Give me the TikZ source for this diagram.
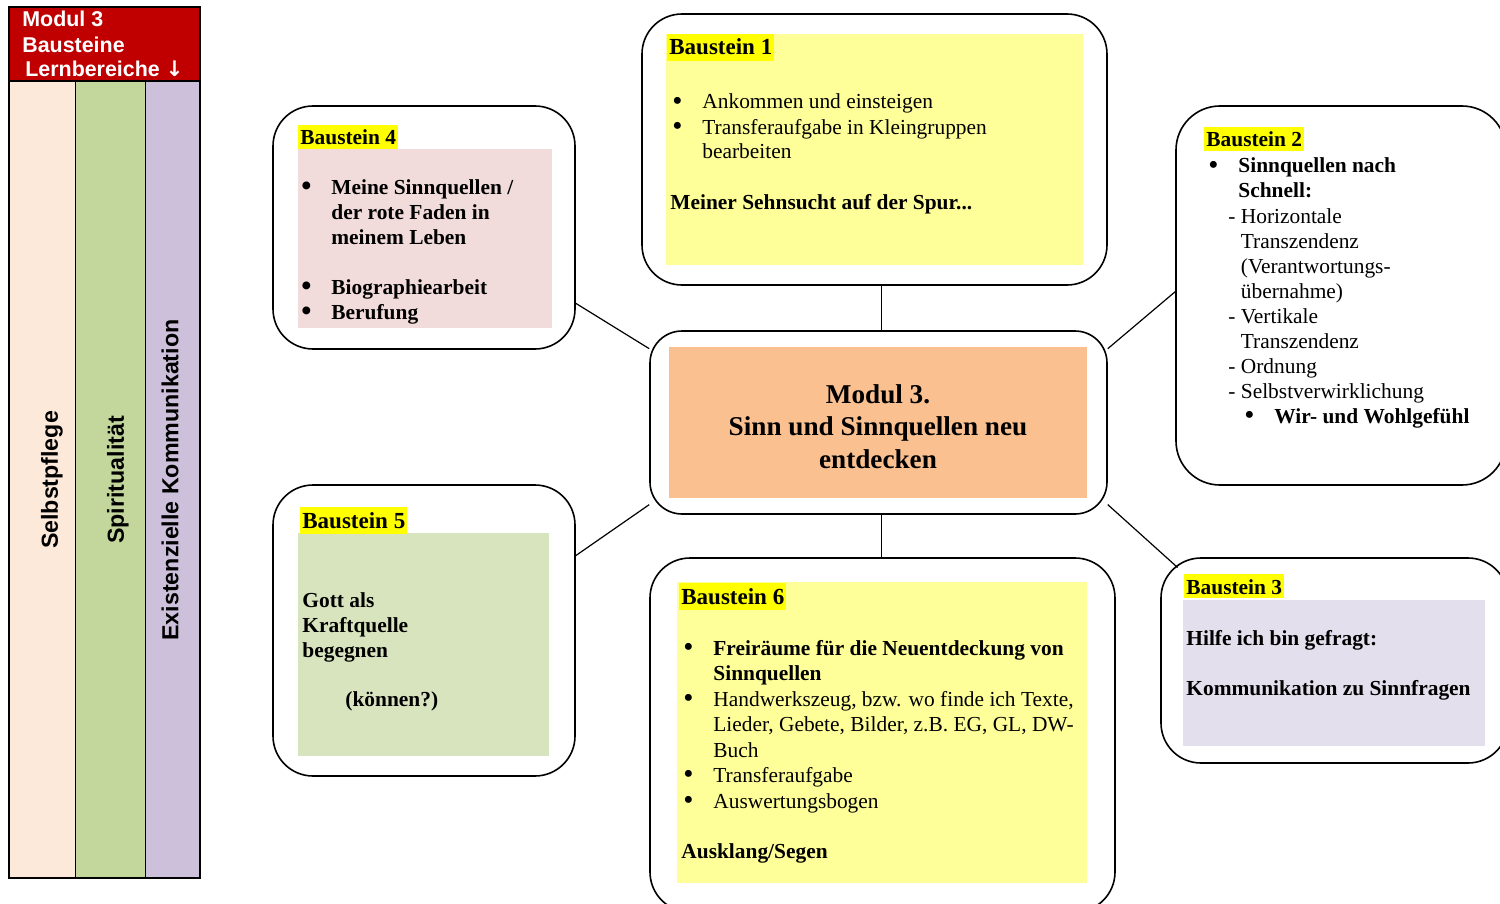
\documentclass[tikz,border=0pt]{standalone}
\usepackage{fontspec}
\setmainfont{Liberation Serif}
\setsansfont{Liberation Sans}
\newfontfamily\arrowfont{DejaVu Sans}
\usepackage{tikz}
\usetikzlibrary{calc,fit,positioning}
\definecolor{modred}{RGB}{192,0,0}
\definecolor{peach}{RGB}{253,233,217}
\definecolor{leafgreen}{RGB}{195,214,155}
\definecolor{lilac}{RGB}{204,192,218}
\definecolor{paleyellow}{RGB}{255,255,153}
\definecolor{hlyellow}{RGB}{255,255,0}
\definecolor{rosepink}{RGB}{242,220,219}
\definecolor{sage}{RGB}{215,228,189}
\definecolor{palelilac}{RGB}{228,223,236}
\definecolor{apricot}{RGB}{250,192,144}
\tikzstyle{bstbox}=[draw,rounded corners=20pt,line width=0.8pt,inner sep=0pt]
\tikzstyle{bsthead}=[anchor=base west,fill=hlyellow,inner xsep=1pt,inner ysep=0pt,text height=10.5pt,text depth=3pt,font=\bfseries\fontsize{11.5}{13}\selectfont]
\tikzstyle{smallhead}=[bsthead,text height=10pt,text depth=2pt,font=\bfseries\fontsize{10.7}{12.5}\selectfont]
\tikzstyle{bsttext}=[anchor=base west,inner sep=0pt,align=left,font=\fontsize{10.7}{12.5}\selectfont]
\tikzstyle{lbtext}=[rotate=90,inner sep=0pt,font=\sffamily\bfseries\fontsize{11.6}{14}\selectfont]
\newcommand{\bul}{\makebox[15pt][l]{\smash{\raisebox{-0.6pt}{\fontsize{14.5}{12}\selectfont\textbullet}}}}
\newcommand{\ind}{\hspace*{15pt}}
\begin{document}
\begin{tikzpicture}[x=0.5pt,y=-0.5pt]
\useasboundingbox (0,0) rectangle (1500,904);
\clip (0,0) rectangle (1500,904);
\fill[modred] (9,7) rectangle (200,81);
\fill[peach] (9,81) rectangle (75,878);
\fill[leafgreen] (75,81) rectangle (145,878);
\fill[lilac] (145,81) rectangle (200,878);
\draw[line width=0.8pt] (9,7) rectangle (200,878);
\draw[line width=0.6pt] (9,81) -- (200,81);
\draw[line width=0.5pt] (75,81) -- (75,878) (145,81) -- (145,878);
\node[anchor=base west,inner sep=0pt,align=left,text=white,font=\sffamily\bfseries\fontsize{10.7}{12.5}\selectfont] (lbhead) at (22,77) {Modul 3\\Bausteine\\\hspace*{1.5pt}Lernbereiche {\arrowfont\bfseries ↓}};
\node[lbtext] (selbst) at (52,480) {Selbstpflege};
\node[lbtext] (spirit) at (118,480) {Spiritualität};
\node[lbtext] (exist) at (170,480) {Existenzielle Kommunikation};

\fill[paleyellow] (666,34) rectangle (1083,265);
\fill[rosepink] (298,149) rectangle (552,328);
\fill[apricot] (669,347) rectangle (1087,498);
\fill[sage] (298,533) rectangle (549,756);
\fill[paleyellow] (677,582) rectangle (1087,883);
\fill[palelilac] (1183,600) rectangle (1485,746);

\node[bstbox,fit={(642,14) (1107,285)}] (b1) {};
\node[bstbox,fit={(273,106) (575,349)}] (b4) {};
\node[bstbox,rounded corners=22pt,fit={(1176,106) (1506,485)}] (b2) {};
\node[bstbox,rounded corners=16pt,fit={(650,331) (1107,514)}] (mod) {};
\node[bstbox,fit={(273,485) (575,776)}] (b5) {};
\node[bstbox,fit={(650,558) (1115,912)}] (b6) {};
\node[bstbox,fit={(1161,558) (1508,763)}] (b3) {};

\draw[line width=0.6pt] ([xshift=1.5pt]mod.north) -- ([xshift=1.5pt]mod.north |- b1.south);
\draw[line width=0.6pt] ([xshift=1.5pt]mod.south) -- ([xshift=1.5pt]mod.south |- b6.north);
\draw[line width=0.6pt] ($(b4.north east)!0.81!(b4.south east)$) -- ($(mod.north west)!0.1!(mod.south west)$);
\draw[line width=0.6pt] ($(b5.north east)!0.244!(b5.south east)$) -- ($(mod.north west)!0.945!(mod.south west)$);
\draw[line width=0.6pt] ($(mod.north east)!0.1!(mod.south east)$) -- ($(b2.north west)!0.49!(b2.south west)$);
\draw[line width=0.6pt] ($(mod.north east)!0.945!(mod.south east)$) -- ($(b3.north west)!0.05!(b3.south east)$);

\node[bsthead] (h1) at (667,55) {Baustein 1};
\node[bsttext] (t1) at (672,159) {\bul Ankommen und einsteigen\\\bul Transferaufgabe in Kleingruppen\\\ind bearbeiten};
\node[bsttext,font=\bfseries\fontsize{10.7}{12.5}\selectfont] (t1b) at (670,209) {Meiner Sehnsucht auf der Spur...};

\node[smallhead] (h4) at (298,145) {Baustein 4};
\node[bsttext,font=\bfseries\fontsize{10.7}{12.5}\selectfont] (t4) at (301,319) {\bul Meine Sinnquellen /\\\ind der rote Faden in\\\ind meinem Leben\\[12.5pt]\bul Biographiearbeit\\\bul Berufung};

\node[smallhead] (h2) at (1204,147) {Baustein 2};
\node[bsttext] (t2) at (1208,198) {\bul\textbf{Sinnquellen nach}\\\ind\textbf{Schnell:}};
\node[bsttext] (t2b) at (1228,398) {- Horizontale\\\phantom{-\ }Transzendenz\\\phantom{-\ }(Verantwortungs-\\\phantom{-\ }übernahme)\\- Vertikale\\\phantom{-\ }Transzendenz\\- Ordnung\\- Selbstverwirklichung};
\node[bsttext] (t2c) at (1244,423) {\bul\textbf{Wir- und Wohlgefühl}};

\node[anchor=base,inner sep=0pt,align=center,font=\bfseries\fontsize{13.6}{16.25}\selectfont] (modtext) at (878,468) {Modul 3.\\Sinn und Sinnquellen neu\\entdecken};

\node[bsthead] (h5) at (300,528) {Baustein 5};
\node[bsttext,font=\bfseries\fontsize{10.7}{12.5}\selectfont] (t5) at (302,657) {Gott als\\Kraftquelle\\begegnen};
\node[bsttext,font=\bfseries\fontsize{10.7}{12.5}\selectfont] (t5b) at (345,706) {(können?)};

\node[bsthead] (h6) at (679,604) {Baustein 6};
\node[bsttext,font=\fontsize{10.7}{12.75}\selectfont] (t6) at (683,808) {\bul\textbf{Freiräume für die Neuentdeckung von}\\\ind\textbf{Sinnquellen}\\\bul Handwerkszeug, bzw. wo finde ich Texte,\\\ind Lieder, Gebete, Bilder, z.B. EG, GL, DW-\\\ind Buch\\\bul Transferaufgabe\\\bul Auswertungsbogen};
\node[bsttext,font=\bfseries\fontsize{10.7}{12.5}\selectfont] (t6b) at (681,858) {Ausklang/Segen};

\node[smallhead] (h3) at (1184,594) {Baustein 3};
\node[bsttext,font=\bfseries\fontsize{10.7}{12.5}\selectfont] (t3) at (1186,695) {Hilfe ich bin gefragt:\\[12.5pt]Kommunikation zu Sinnfragen};
\end{tikzpicture}
\end{document}
